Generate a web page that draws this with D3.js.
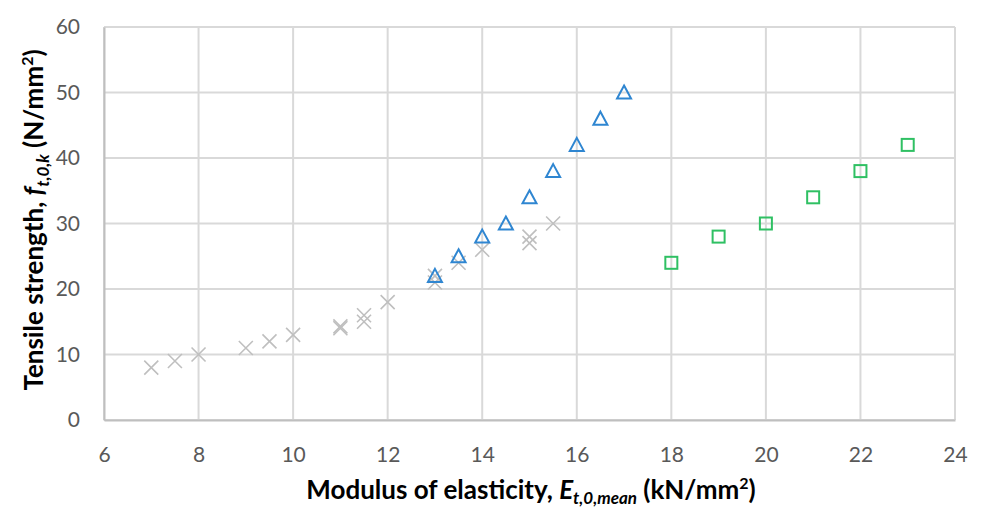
<!DOCTYPE html>
<html>
<head>
<meta charset="utf-8">
<script src="https://cdn.jsdelivr.net/npm/d3@7"></script>
<style>
  body { margin: 0; background: #fff; }
  text { font-family: Lato, "Open Sans", sans-serif; }
</style>
</head>
<body>
<div id="chart"></div>
<script>
// data
var crossX = [7, 7.5, 8, 9, 9.5, 10, 11, 11, 11.5, 11.5, 12, 13, 13, 13.5, 14, 15, 15, 15.5];
var crossY = [8, 9, 10, 11, 12, 13, 14, 14.3, 15, 16, 18, 21, 22, 24, 26, 27, 28, 30];
var triX = [13, 13.5, 14, 14.5, 15, 15.5, 16, 16.5, 17];
var triY = [22, 25, 28, 30, 34, 38, 42, 46, 50];
var sqX = [18, 19, 20, 21, 22, 23];
var sqY = [24, 28, 30, 34, 38, 42];
var xTicks = [6, 8, 10, 12, 14, 16, 18, 20, 22, 24];
var yTicks = [0, 10, 20, 30, 40, 50, 60];

var svg_width = 981, svg_height = 509;
var svg = d3.select("#chart").append("svg")
  .attr("width", svg_width)
  .attr("height", svg_height);
var margin = {top: 27, right: 26, bottom: 89, left: 104};
var w = svg_width - margin.left - margin.right;
var h = svg_height - margin.top - margin.bottom;

var g = svg.append("g")
  .attr("transform", "translate(" + margin.left + "," + margin.top + ")");

var x = d3.scaleLinear().domain([6, 24]).range([0, w]);
var y = d3.scaleLinear().domain([0, 60]).range([h, 0]);

// gridlines
g.append("g").selectAll("line")
  .data(xTicks)
  .enter().append("line")
    .attr("x1", function(d) { return x(d); })
    .attr("x2", function(d) { return x(d); })
    .attr("y1", 0).attr("y2", h)
    .attr("stroke", "#d9d9d9").attr("stroke-width", 2);
g.append("g").selectAll("line")
  .data(yTicks)
  .enter().append("line")
    .attr("x1", 0).attr("x2", w)
    .attr("y1", function(d) { return y(d); })
    .attr("y2", function(d) { return y(d); })
    .attr("stroke", "#d9d9d9").attr("stroke-width", 2);

// axes
var xAxis = g.append("g")
  .attr("transform", "translate(0," + h + ")")
  .call(d3.axisBottom(x).tickValues(xTicks).tickSize(0).tickPadding(27));
var yAxis = g.append("g")
  .call(d3.axisLeft(y).tickValues(yTicks).tickSize(0).tickPadding(24));
[xAxis, yAxis].forEach(function(a) {
  a.select(".domain").attr("stroke", "#bfbfbf").attr("stroke-width", 2);
  a.selectAll("text")
    .attr("fill", "#595959")
    .style("font-family", "Lato, sans-serif")
    .style("font-size", "21px");
});

// grey crosses
var cs = 7;
g.append("g").selectAll("path")
  .data(d3.range(crossX.length))
  .enter().append("path")
    .attr("d", function(i) {
      var cx = x(crossX[i]), cy = y(crossY[i]);
      return "M" + (cx - cs) + "," + (cy - cs) + "L" + (cx + cs) + "," + (cy + cs) +
             "M" + (cx - cs) + "," + (cy + cs) + "L" + (cx + cs) + "," + (cy - cs);
    })
    .attr("fill", "none")
    .attr("stroke", "#bfbfbf")
    .attr("stroke-width", 1.6);

// blue triangles
g.append("g").selectAll("path")
  .data(d3.range(triX.length))
  .enter().append("path")
    .attr("d", function(i) {
      var cx = x(triX[i]), cy = y(triY[i]);
      return "M" + cx + "," + (cy - 7) + "L" + (cx + 7) + "," + (cy + 6) +
             "L" + (cx - 7) + "," + (cy + 6) + "Z";
    })
    .attr("fill", "none")
    .attr("stroke", "#2f86d1")
    .attr("stroke-width", 2);

// green squares
g.append("g").selectAll("rect")
  .data(d3.range(sqX.length))
  .enter().append("rect")
    .attr("x", function(i) { return x(sqX[i]) - 6; })
    .attr("y", function(i) { return y(sqY[i]) - 6; })
    .attr("width", 12).attr("height", 12)
    .attr("fill", "none")
    .attr("stroke", "#2fc063")
    .attr("stroke-width", 2);

// x title
var xt = svg.append("text")
  .attr("x", 531).attr("y", 499)
  .attr("text-anchor", "middle")
  .attr("font-size", "26px")
  .attr("font-weight", "bold")
  .attr("fill", "#000");
xt.append("tspan").text("Modulus of elasticity, ");
xt.append("tspan").attr("font-style", "italic").text("E");
xt.append("tspan").attr("font-style", "italic").attr("font-size", "17px").attr("dy", 5).text("t,0,mean");
xt.append("tspan").attr("dy", -5).text(" (kN/mm");
xt.append("tspan").attr("font-size", "16px").attr("dy", -10).text("2");
xt.append("tspan").attr("dy", 10).text(")");

// y title
var yt = svg.append("text")
  .attr("transform", "translate(43,220) rotate(-90)")
  .attr("text-anchor", "middle")
  .attr("font-size", "26px")
  .attr("font-weight", "bold")
  .attr("fill", "#000");
yt.append("tspan").text("Tensile strength, ");
yt.append("tspan").attr("font-style", "italic").text("f");
yt.append("tspan").attr("font-style", "italic").attr("font-size", "17px").attr("dy", 6).text("t,0,k");
yt.append("tspan").attr("dy", -6).text(" (N/mm");
yt.append("tspan").attr("font-size", "16px").attr("dy", -10).text("2");
yt.append("tspan").attr("dy", 10).text(")");
</script>
</body>
</html>
